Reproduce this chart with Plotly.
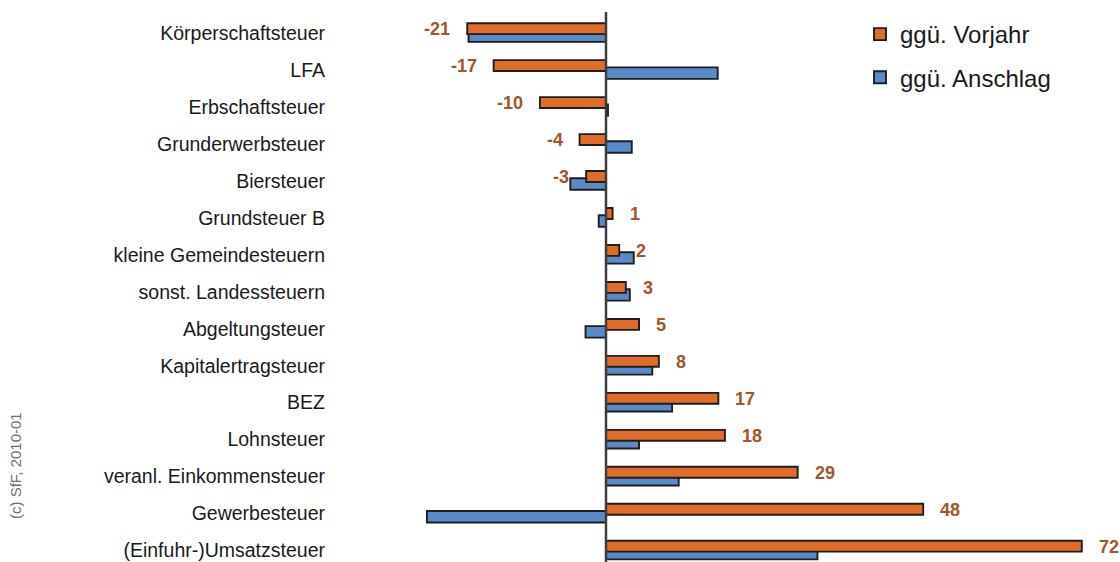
import plotly.graph_objects as go

# Tax categories, top to bottom
categories = [
    "Körperschaftsteuer", "LFA", "Erbschaftsteuer", "Grunderwerbsteuer",
    "Biersteuer", "Grundsteuer B", "kleine Gemeindesteuern",
    "sonst. Landessteuern", "Abgeltungsteuer", "Kapitalertragsteuer",
    "BEZ", "Lohnsteuer", "veranl. Einkommensteuer", "Gewerbesteuer",
    "(Einfuhr-)Umsatzsteuer",
]
# change vs. previous year
vs_prev_year = [-21, -17, -10, -4, -3, 1, 2, 3, 5, 8, 17, 18, 29, 48, 72]
# change vs. budget estimate
vs_budget = [-20.8, 16.9, 0.3, 3.9, -5.4, -1.1, 4.2, 3.6, -3.1, 7.0, 10.0, 5.0, 11.0, -27.1, 32.0]

ORANGE = "#E06C2B"
BLUE = "#5A8BC9"
EDGE = "#1E1E1E"
LABEL = "#A4552B"
FONT = "Liberation Sans, Arial, sans-serif"

fig = go.Figure()

fig.add_trace(go.Bar(
    name="ggü. Anschlag", y=categories, x=vs_budget, orientation="h",
    marker=dict(color=BLUE, line=dict(color=EDGE, width=1.9)),
    offset=-0.07, width=0.31, legendrank=2, legendgroup="b",
))
fig.add_trace(go.Bar(
    name="ggü. Vorjahr", y=categories, x=vs_prev_year, orientation="h",
    marker=dict(color=ORANGE, line=dict(color=EDGE, width=1.9)),
    offset=-0.265, width=0.295, legendrank=1, legendgroup="a",
))

# value labels next to the orange bars
for cat, v in zip(categories, vs_prev_year):
    fig.add_annotation(
        x=v, y=cat, text=f"<b>{v}</b>", showarrow=False,
        xanchor="left" if v > 0 else "right",
        xshift=15 if v > 0 else -15, yshift=4,
        font=dict(family=FONT, size=18, color=LABEL),
    )

# vertical zero axis
fig.add_shape(type="line", xref="x", yref="paper", x0=0, x1=0, y0=0, y1=1,
              line=dict(color="#3C3C3C", width=2.5), layer="above")

W, H = 1120, 562
L, R, T, B = 326, 10, 12, 0
ZERO_PX, PX_PER_UNIT = 606, 6.608
x_min = -(ZERO_PX - L) / PX_PER_UNIT
x_max = (W - R - ZERO_PX) / PX_PER_UNIT

# copyright note, rotated along the left edge
fig.add_annotation(
    text="(c) SfF, 2010-01", xref="paper", yref="paper",
    x=(15 - L) / (W - L - R), y=1 - (466 - T) / (H - T - B),
    xanchor="center", yanchor="middle",
    textangle=-90, showarrow=False,
    font=dict(family=FONT, size=15, color="#707070"),
)

fig.update_layout(
    width=W, height=H,
    margin=dict(l=L, r=R, t=T, b=B),
    paper_bgcolor="white", plot_bgcolor="white",
    barmode="overlay",
    showlegend=True,
    legend=dict(
        x=(860 - L) / (W - L - R), y=1.0,
        xanchor="left", yanchor="top",
        font=dict(family=FONT, size=24, color="#1A1A1A"),
        tracegroupgap=9, traceorder="grouped",
        bgcolor="rgba(0,0,0,0)",
    ),
    xaxis=dict(range=[x_min, x_max], showgrid=False, zeroline=False,
               showticklabels=False, showline=False, ticks=""),
    yaxis=dict(range=[14.31, -0.568], showgrid=False, zeroline=False,
               showline=False, ticks="",
               tickfont=dict(family=FONT, size=19.5, color="#1A1A1A")),
    font=dict(family=FONT),
)

fig.write_html("out.html")
